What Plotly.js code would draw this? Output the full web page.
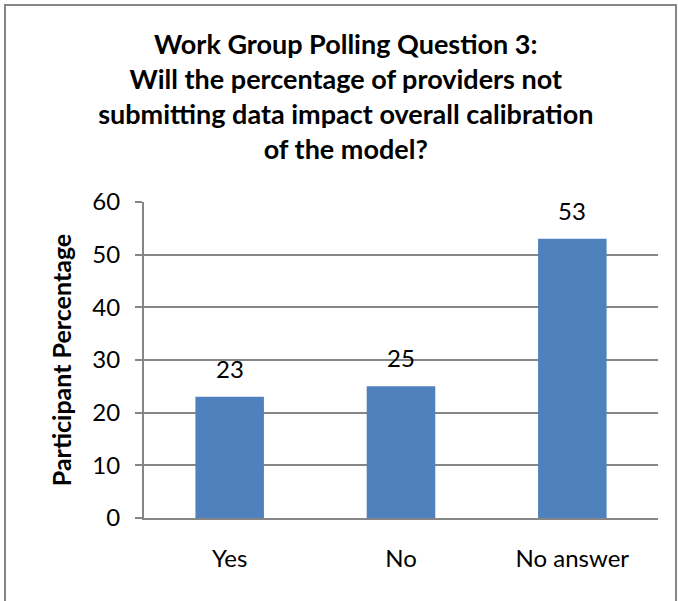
<!DOCTYPE html>
<html>
<head>
<meta charset="utf-8">
<script src="https://cdn.plot.ly/plotly-3.0.1.min.js"></script>
<style>
  html, body { margin: 0; padding: 0; background: #fff; }
  #frame { position: absolute; left: 4px; top: 4px; width: 673px; height: 620px; border: 2px solid #868686; box-sizing: border-box; }
  #chart { position: absolute; left: 0; top: 0; width: 678px; height: 601px; }
</style>
</head>
<body>
<div id="chart"></div>
<div id="frame"></div>
<script>
const categories = ["Yes", "No", "No answer"];
const percentages = [23, 25, 53];
const yTicks = [0, 10, 20, 30, 40, 50, 60];

const FONT = "Lato, 'Open Sans', sans-serif";
const trace = {
  type: "bar",
  x: categories,
  y: percentages,
  marker: { color: "#4F81BD" },
  width: 0.4,
  hoverinfo: "none"
};

const labels = categories.map((c, i) => ({
  x: c, y: percentages[i], xref: "x", yref: "y",
  text: String(percentages[i]),
  showarrow: false, yanchor: "bottom", yshift: 12,
  font: { family: FONT, size: 24, color: "#000" }
}));

const layout = {
  width: 678,
  height: 601,
  margin: { l: 144, r: 20, t: 202, b: 83 },
  paper_bgcolor: "#fff",
  plot_bgcolor: "#fff",
  showlegend: false,
  annotations: labels,
  title: {
    text: "<b>Work Group Polling Question 3:<br>Will the percentage of providers not<br>submitting data impact overall calibration<br>of the model?</b>",
    font: { family: FONT, size: 27, color: "#000" },
    x: 0.51, xref: "container", xanchor: "center",
    y: 0.91, yref: "container", yanchor: "top"
  },
  xaxis: {
    type: "category",
    showline: true, linecolor: "#868686", linewidth: 2,
    ticks: "", showgrid: false,
    tickfont: { family: FONT, size: 24, color: "#000" },
    ticklabelstandoff: 18
  },
  yaxis: {
    range: [0, 60],
    tickvals: yTicks,
    showline: true, linecolor: "#868686", linewidth: 2,
    ticks: "outside", ticklen: 7, tickcolor: "#868686", tickwidth: 2,
    showgrid: true, gridcolor: "#868686", gridwidth: 2,
    zeroline: false,
    ticklabelstandoff: 10,
    tickfont: { family: FONT, size: 24, color: "#000" },
    title: { text: "<b>Participant Percentage</b>", font: { family: FONT, size: 25, color: "#000" }, standoff: 14 }
  }
};

Plotly.newPlot("chart", [trace], layout, { staticPlot: true, displayModeBar: false });
</script>
</body>
</html>
